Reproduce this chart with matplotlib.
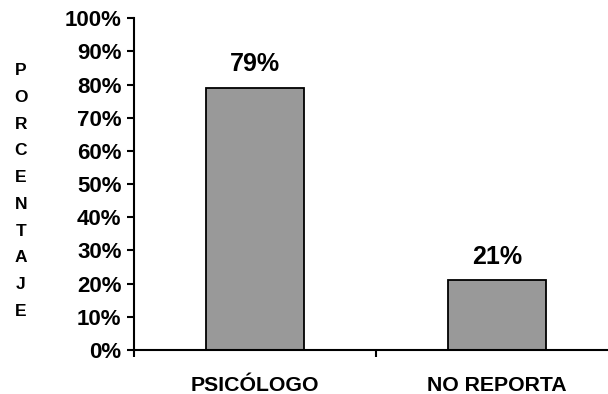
import matplotlib.pyplot as plt
import numpy as np

plt.rcParams['font.family'] = ['Liberation Sans', 'DejaVu Sans']
plt.rcParams['font.weight'] = 'bold'

# Data
categories = ['PSICÓLOGO', 'NO REPORTA']
values = [79, 21]
value_labels = ['79%', '21%']
y_ticks = np.arange(0, 101, 10)
ylabel_letters = list('PORCENTAJE')

fig = plt.figure(figsize=(6.08, 3.94), dpi=100)
# axis runs a little past the right edge of the figure, as in the original
ax = fig.add_axes([0.2204, 0.1117, 0.796, 0.8420])

x = np.arange(len(categories)) + 0.5
ax.bar(x, values, width=0.405, color='#999999', edgecolor='black', linewidth=1.3)

for xi, v, lab in zip(x, values, value_labels):
    ax.text(xi, v + 5, lab, ha='center', va='baseline', fontsize=18, fontweight='bold')

ax.set_xlim(0, 2)
ax.set_ylim(0, 100)
ax.set_yticks(y_ticks)
ax.set_yticklabels([f'{t}%' for t in y_ticks], fontsize=16, fontweight='bold')
ax.set_xticks([0, 1, 2])
ax.set_xticklabels([])
ax.set_xticks(x, minor=True)
ax.set_xticklabels(categories, minor=True, fontsize=15.3, fontweight='bold')
ax.tick_params(axis='x', which='minor', length=0, pad=19)
ax.tick_params(axis='both', which='major', length=5, width=1.5, direction='out')
ax.tick_params(axis='y', pad=4)

for s in ['top', 'right']:
    ax.spines[s].set_visible(False)
ax.spines['left'].set_linewidth(1.5)
ax.spines['bottom'].set_linewidth(1.5)

fig.text(0.034, 0.515, '\n'.join(ylabel_letters), ha='center', va='center',
         fontsize=12.5, fontweight='bold', linespacing=1.98)

plt.savefig('out.png', dpi=100)
